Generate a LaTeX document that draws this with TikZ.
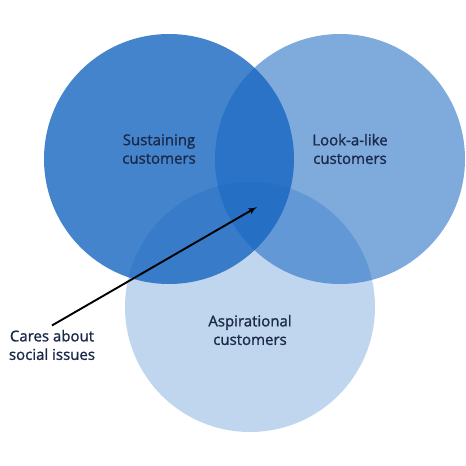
\documentclass[tikz,border=0pt]{standalone}
\usepackage{fontspec}
\setmainfont{Open Sans}[UprightFeatures={FakeBold=1.3}]
\usepackage{xcolor}
\usetikzlibrary{shapes,arrows}

\definecolor{vennblue}{HTML}{1565C0}
\definecolor{textnavy}{HTML}{1B2A4A}

\begin{document}
\begin{tikzpicture}[x=1pt, y=-1pt]
	\tikzstyle{set} = [circle, minimum size=250pt, inner sep=0pt, fill=vennblue]
	\tikzstyle{tag} = [text=textnavy, align=center, font=\fontsize{15}{18.5}\selectfont]
	\tikzstyle{line} = [draw, -latex', line width=1.9pt, black]
	\useasboundingbox (0,0) rectangle (466,466);
	% Place nodes
	\node [set, fill opacity=0.8] (sustaining) at (169,159) {};
	\node [set, fill opacity=0.55] (lookalike) at (340,159) {};
	\node [set, fill opacity=0.27] (aspirational) at (250,307) {};
	\node [tag] (sustaininglbl) at (159,149) {Sustaining\\customers};
	\node [tag] (lookalikelbl) at (350,149) {Look-a-like\\customers};
	\node [tag] (aspirationallbl) at (250,330) {Aspirational\\customers};
	\node [tag] (cares) at (52,345) {Cares about\\social issues};
	\coordinate (overlap) at (257,207);
	% Draw edges
	\path [line] (cares.north) ++(0,-1) -- (overlap);
\end{tikzpicture}
\end{document}
